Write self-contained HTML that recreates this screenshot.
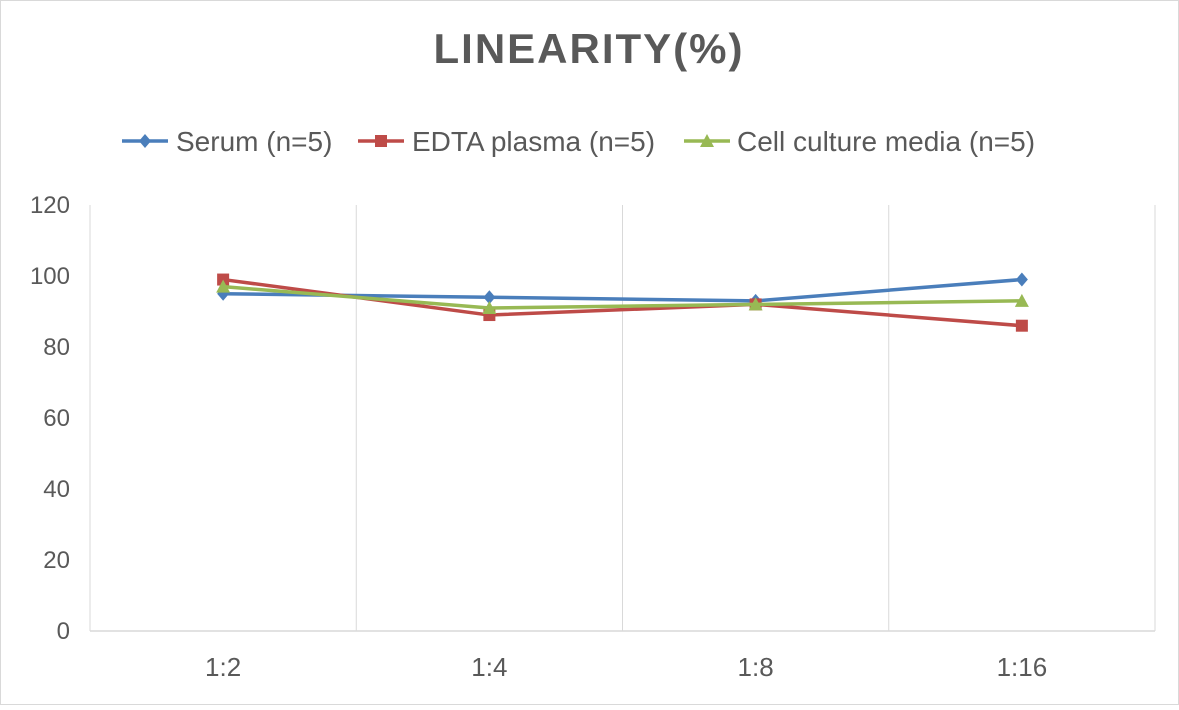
<!DOCTYPE html>
<html><head><meta charset="utf-8"><style>
body{margin:0;background:#fff;}
svg text{font-family:"Liberation Sans",sans-serif;}
</style></head><body>
<svg width="1179" height="705" xmlns="http://www.w3.org/2000/svg">
<rect x="0.5" y="0.5" width="1178" height="704" fill="#fff" stroke="#d9d9d9"/>
<text x="589" y="63" text-anchor="middle" font-size="42" font-weight="bold" fill="#595959" letter-spacing="2">LINEARITY(%)</text>
<g id="legend"></g>
<g id="grid"></g>
<g id="axes"></g>
<g id="series"></g>
</svg>
<script>
const categories=["1:2","1:4","1:8","1:16"];
const serum=[95,94,93,99];
const edta=[99,89,92,86];
const cell=[97,91,92,93];
const yTicks=[0,20,40,60,80,100,120];
const seriesNames=["Serum (n=5)","EDTA plasma (n=5)","Cell culture media (n=5)"];
const NS="http://www.w3.org/2000/svg";
const L=90,R=1155,T=205,B=631,yMax=120;
const bw=(R-L)/categories.length;
function xs(i){return L+bw*(i+0.5);}
function ys(v){return B-(v/yMax)*(B-T);}
function mk(tag,attrs,parent){const e=document.createElementNS(NS,tag);for(const k in attrs)e.setAttribute(k,attrs[k]);parent.appendChild(e);return e;}
const grid=document.getElementById('grid'),axes=document.getElementById('axes'),ser=document.getElementById('series'),leg=document.getElementById('legend');
for(let i=0;i<=categories.length;i++){const l=mk('line',{x1:L+bw*i,x2:L+bw*i,y1:T,y2:B,stroke:'#d9d9d9','stroke-width':1},grid);

}
const ax=mk('line',{x1:L,x2:R,y1:B,y2:B,stroke:'#d9d9d9','stroke-width':1.5},axes);


yTicks.forEach(v=>{const t=mk('text',{x:70,y:ys(v)+8,'text-anchor':'end','font-size':24,fill:'#595959'},axes);t.textContent=v;

});
categories.forEach((c,i)=>{const t=mk('text',{x:xs(i),y:676,'text-anchor':'middle','font-size':26,fill:'#595959'},axes);t.textContent=c;

});
const colors=['#4a7ebb','#be4b48','#98b954'];
const shapes=['diamond','square','triangle'];
function marker(shape,x,y,color,parent){
 let e;
 if(shape==='diamond')e=mk('polygon',{points:`${x},${y-7} ${x+6},${y} ${x},${y+7} ${x-6},${y}`,fill:color},parent);
 else if(shape==='square')e=mk('rect',{x:x-6,y:y-6,width:12,height:12,fill:color},parent);
 else e=mk('polygon',{points:`${x},${y-7} ${x+7},${y+6} ${x-7},${y+6}`,fill:color},parent);
 return e;
}
[serum,edta,cell].forEach((d,s)=>{
 const g=mk('g',{},ser);
 
 
 const p=mk('polyline',{points:d.map((v,i)=>xs(i)+','+ys(v)).join(' '),fill:'none',stroke:colors[s],'stroke-width':3.5,'stroke-linejoin':'round'},g);
 
 
 d.forEach((v,i)=>{const m=marker(shapes[s],xs(i),ys(v),colors[s],g);
 
 });
});
const legX=[122,358,684],legTX=[176,412,737];
seriesNames.forEach((n,s)=>{
 const g=mk('g',{},leg);
 
 
 mk('line',{x1:legX[s],x2:legX[s]+46,y1:141,y2:141,stroke:colors[s],'stroke-width':3.5},g);
 marker(shapes[s],legX[s]+23,141,colors[s],g);
 const t=mk('text',{x:legTX[s],y:151,'font-size':28,fill:'#595959'},g);t.textContent=n;
});
</script>
</body></html>
